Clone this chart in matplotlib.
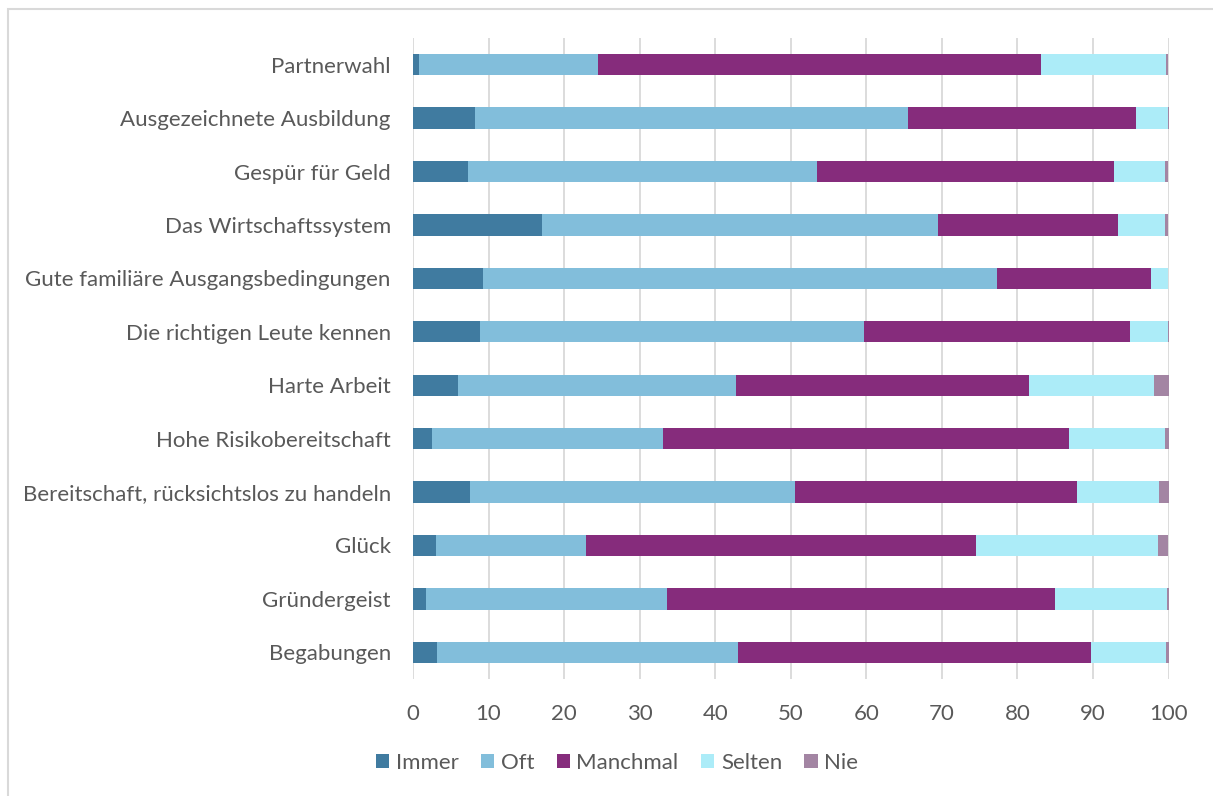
import matplotlib
matplotlib.use("Agg")
import matplotlib.pyplot as plt
from matplotlib.patches import Rectangle, Patch
import numpy as np

plt.rcParams['font.family'] = ['Lato', 'DejaVu Sans']

categories = ["Partnerwahl", "Ausgezeichnete Ausbildung", "Gespür für Geld",
              "Das Wirtschaftssystem", "Gute familiäre Ausgangsbedingungen",
              "Die richtigen Leute kennen", "Harte Arbeit", "Hohe Risikobereitschaft",
              "Bereitschaft, rücksichtslos zu handeln", "Glück", "Gründergeist", "Begabungen"]
series_names = ["Immer", "Oft", "Manchmal", "Selten", "Nie"]
immer    = [0.8, 8.2, 7.3, 17.1, 9.3, 8.9, 6.0, 2.5, 7.5, 3.0, 1.7, 3.2]
oft      = [23.7, 57.3, 46.2, 52.4, 68.0, 50.8, 36.8, 30.6, 43.1, 19.9, 31.9, 39.8]
manchmal = [58.6, 30.2, 39.3, 23.8, 20.4, 35.2, 38.7, 53.7, 37.3, 51.6, 51.4, 46.7]
selten   = [16.6, 4.2, 6.7, 6.2, 2.2, 5.0, 16.6, 12.8, 10.9, 24.1, 14.8, 10.0]
nie      = [0.3, 0.1, 0.5, 0.5, 0.1, 0.1, 1.9, 0.4, 1.2, 1.4, 0.2, 0.3]
x_ticks = [0, 10, 20, 30, 40, 50, 60, 70, 80, 90, 100]

colors = ["#407BA0", "#82BEDB", "#862C7C", "#ACECF8", "#A385A3"]
text_color = "#595959"

fig = plt.figure(figsize=(12.13, 7.96), dpi=100)
ax = fig.add_axes([413/1213, 1 - 679/796, (1168.5 - 413)/1213, (679 - 38)/796])

y = np.arange(len(categories))
left = np.zeros(len(categories))
for name, vals, c in zip(series_names, [immer, oft, manchmal, selten, nie], colors):
    ax.barh(y, vals, left=left, height=0.4, color=c, label=name, zorder=3)
    left = left + np.array(vals)

ax.set_ylim(len(categories) - 0.5, -0.5)
ax.set_xlim(0, 100)
ax.set_xticks(x_ticks)
ax.set_yticks(y)
ax.set_yticklabels(categories)
ax.tick_params(axis='both', length=0, labelsize=16, colors=text_color)
ax.tick_params(axis='x', pad=18)
ax.tick_params(axis='y', pad=16)
ax.grid(axis='x', color="#D9D9D9", linewidth=1.3, zorder=0)
for s in ax.spines.values():
    s.set_visible(False)

handles = [Patch(facecolor=c, label=n) for n, c in zip(series_names, colors)]
fig.legend(handles=handles, loc='center', bbox_to_anchor=(617/1213, 1 - 763/796), ncol=5,
           frameon=False, fontsize=16, labelcolor=text_color, handlelength=0.6,
           handleheight=0.6, handletextpad=0.3, columnspacing=1.0)

fig.patches.append(Rectangle((7.5/1213, -0.1), 1.2, 0.1 + 1 - 8.5/796, transform=fig.transFigure,
                             fill=False, edgecolor="#D9D9D9", linewidth=1.5))

fig.savefig("out.png", dpi=100, facecolor="white")
